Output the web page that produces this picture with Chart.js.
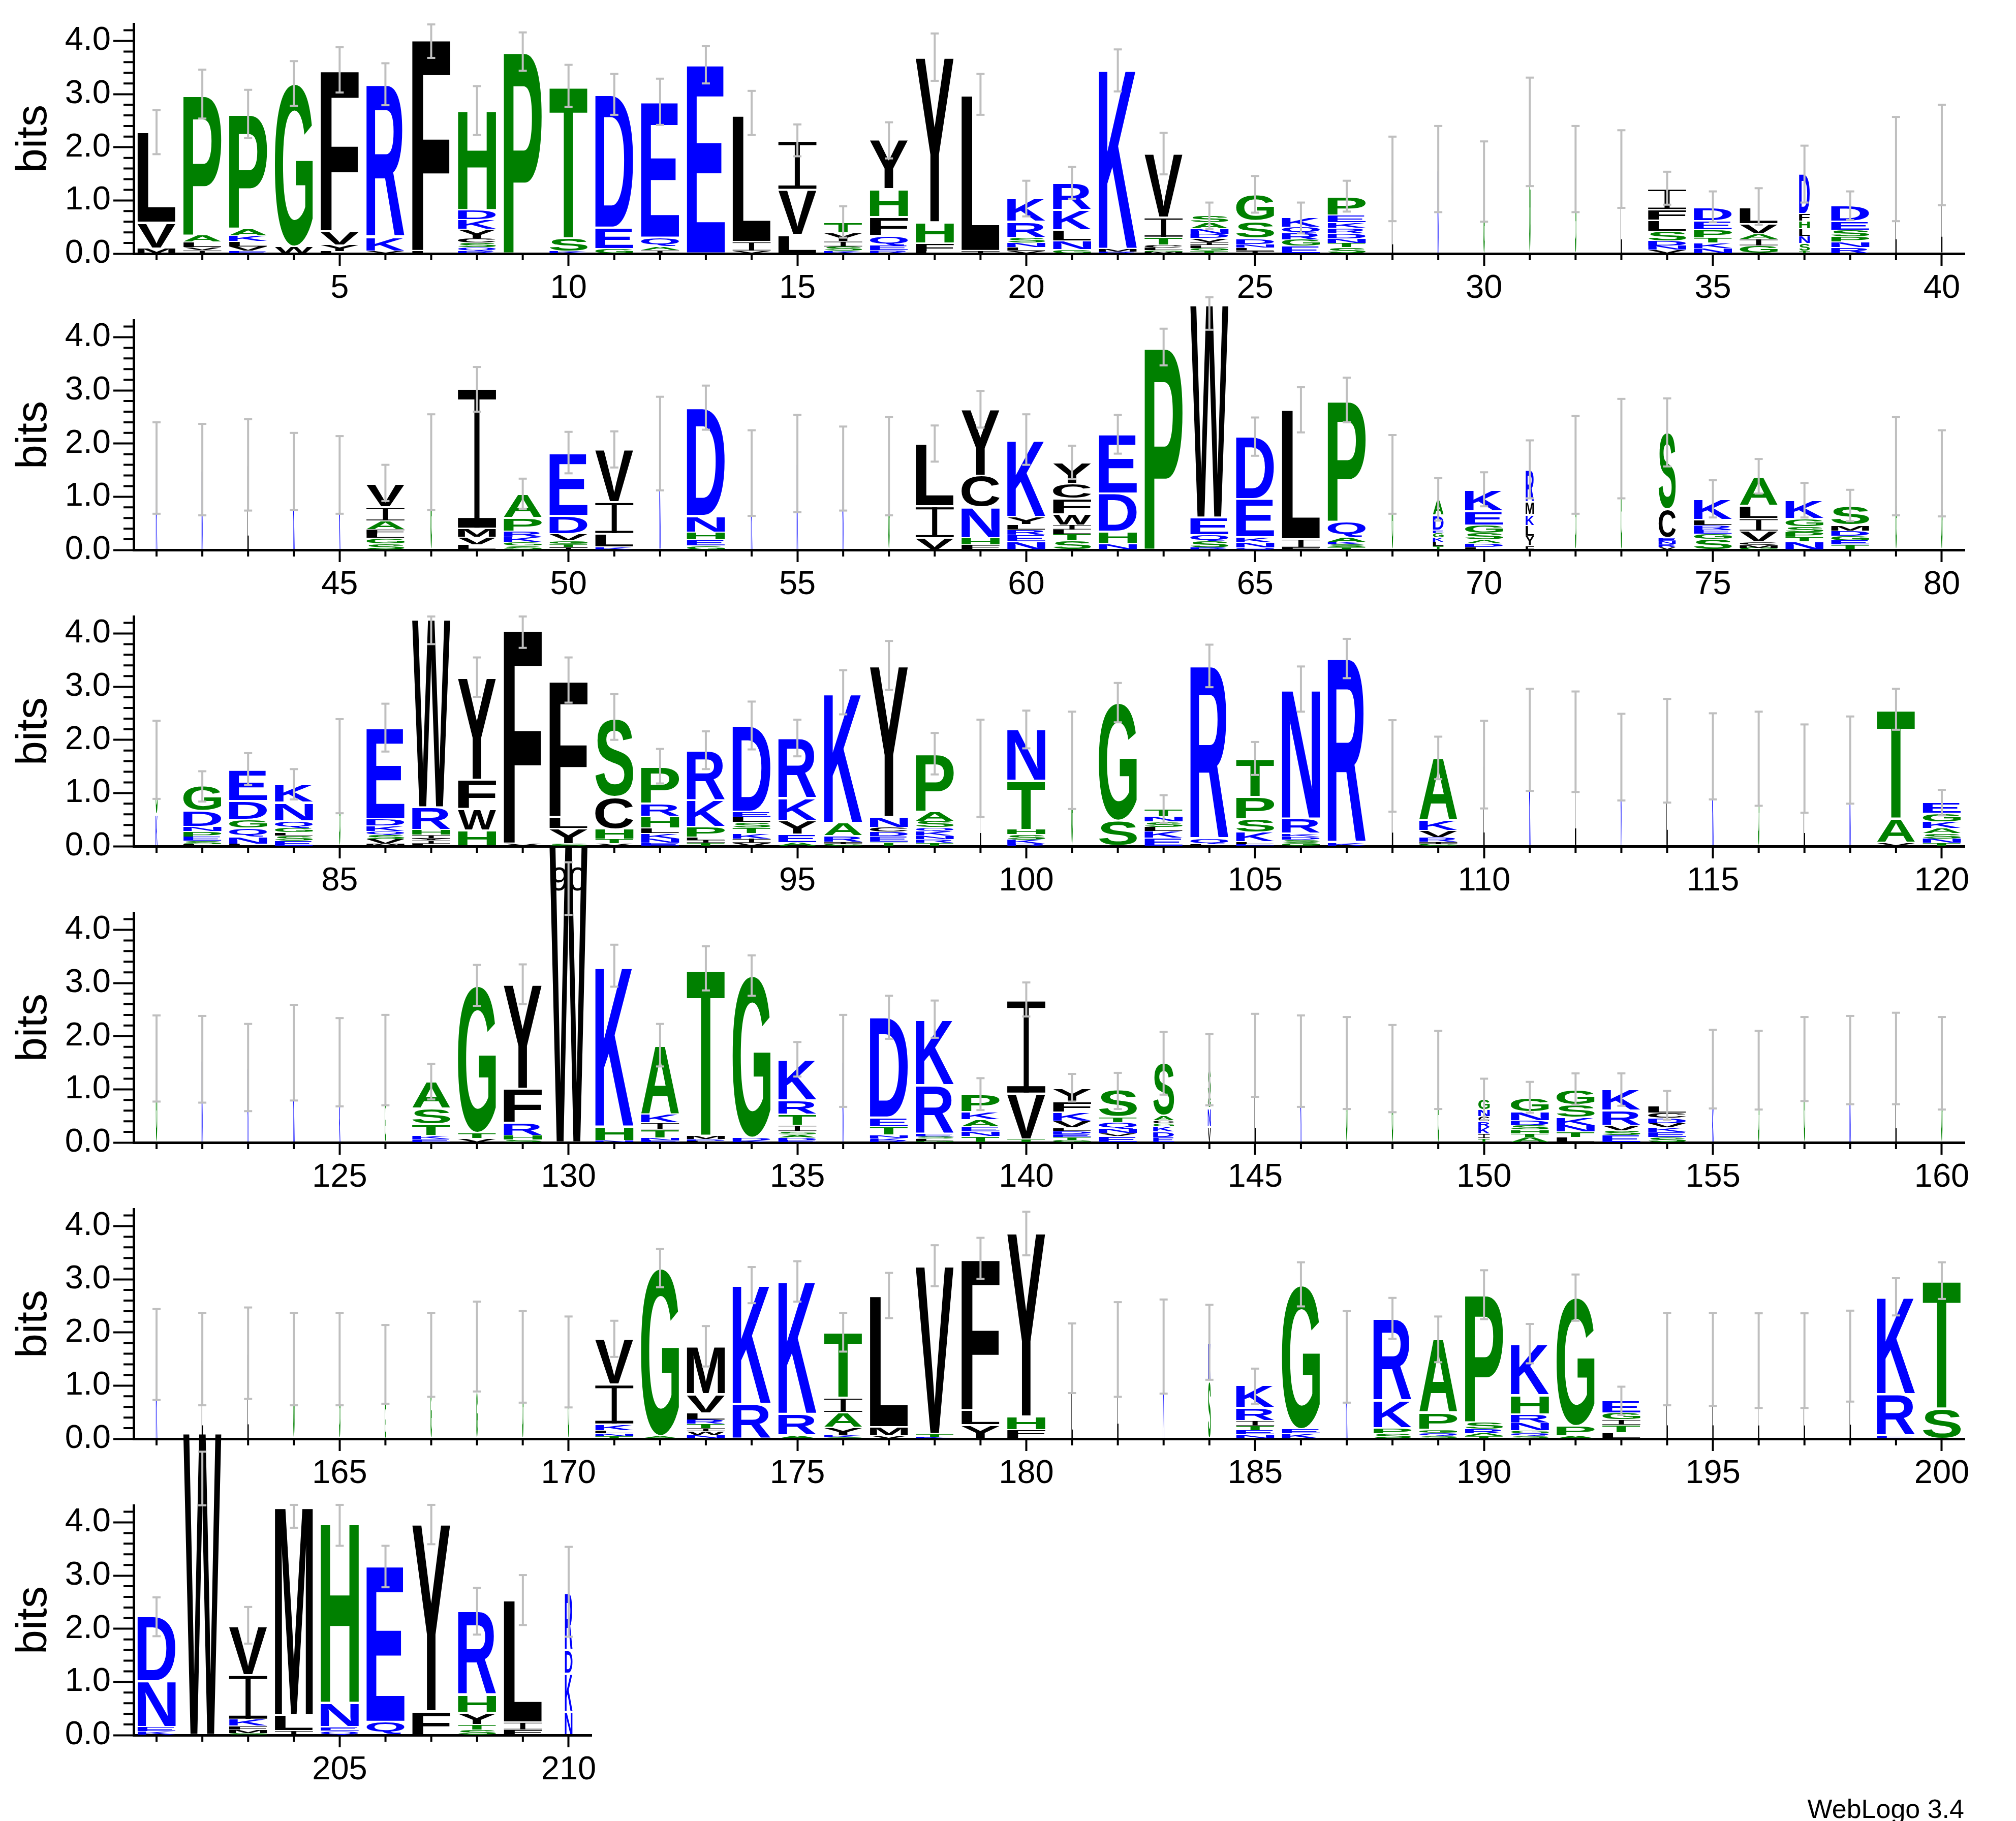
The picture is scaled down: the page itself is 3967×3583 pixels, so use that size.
<!DOCTYPE html>
<html>
<head>
<meta charset="utf-8">
<title>Sequence logo</title>
<script src="https://cdn.jsdelivr.net/npm/chart.js@4.4.1/dist/chart.umd.min.js"></script>
<style>
  html, body { margin: 0; padding: 0; background: #fff; }
  #page { position: relative; width: 3967px; height: 3583px; overflow: hidden; background: #fff; }
  #page canvas { position: absolute; left: 0; }
  #credit { position: absolute; right: 102px; top: 3533px; font: 52px "Liberation Sans", Arial, sans-serif; line-height: 1; color: #000; }
</style>
</head>
<body>
<div id="page"><div id="credit">WebLogo 3.4</div></div>
<script>
// residues per position (1..210), listed bottom -> top
const letters = [
  "MVL","IVLAP","EVLKAP","WG","LYVF","VKR","LF","RQSCYKDH","P","KST",
  "GED","IAQE","E","VIL","LVI","KSIYT","REQFHY","LFHY","IL","VLNSRK",
  "GNLKR","RMK","MGLCTIV","TGLIVDNAS","ILNDSG","EGRQK","STNDRKEP","LG","K","G",
  "G","G","L","VNDSLFI","NKTPED","GIAVL","TSNLHFD","RNPSED","L","L",
  "K","K","L","K","K","SGLFAIV","G","LVMI","SGKRPA","ITGVDE",
  "KLIV","K","GEHND","K","K","K","G","VIL","FHNCY","NERLYK",
  "STLIWFCY","NHDE","P","RSQEW","QNKED","FIL","TSKAQP","G","TLKGEDA","LDASGEK",
  "FYLKMR","G","G","VRNECS","SGERLK","GMCVILA","NTPSGK","TEGDMS","G","G",
  "KG","LSEPNDG","LNQGDE","ESLGQNK","G","MVSQKDE","LIYIHRW","HWFY","VF","SYLF",
  "VTHCS","ENKLHRP","TILPKR","VIKTSLED","AEYKR","GIRAK","TEDCNY","TRNKQSAP","L","RKSHTN",
  "G","SG","EKLSNT","LQR","ELKSPT","GSDKRN","KR","L","GIRVKA","L",
  "K","L","K","L","K","G","L","K","VAT","TNSAKGE",
  "G","K","K","K","KG","GL","EKTSA","VTG","SHRFY","W",
  "NHK","ENTIKA","LDMT","KDG","EDASITRK","K","RKNTED","GLSERK","TNEAKP","TVI",
  "GTEDLVKFY","EVNQTS","EDKGCAS","VNGS","L","K","G","G","G","TIKRCNG",
  "ATHSDNG","LTNKSG","ESVRK","SEKVDCL","KG","G","G","K","L","G",
  "K","L","L","G","G","GL","GK","GL","G","G",
  "TNLKIV","AG","NWITRLVM","RK","ARK","SKYAIT","VML","KTV","YLF","LFHY",
  "LG","L","K","SK","NETIRK","KEG","K","SPKR","SQGPA","TARSP",
  "SQGNRHK","APG","LTIGE","L","L","L","L","L","ERK","ST",
  "KEND","W","GMFKIV","ILM","QENH","QE","FY","STYHR","FIL","NKDR"
];

// letter heights in bits, same order as letters
const heights = [
  [0.10,0.48,1.70],[0.06,0.06,0.10,0.12,2.65],[0.05,0.08,0.10,0.11,0.13,2.16],[0.13,3.07],[0.04,0.12,0.26,3.04],
  [0.04,0.27,2.87],[0.05,4.00],[0.05,0.07,0.08,0.08,0.18,0.18,0.18,1.88],[3.81],[0.04,0.25,2.86],
  [0.09,0.40,2.50],[0.06,0.07,0.17,2.55],[3.55],[0.05,0.17,2.38],[0.35,0.85,0.92],
  [0.05,0.08,0.10,0.16,0.20],[0.06,0.09,0.18,0.36,0.52,0.93],[0.04,0.15,0.40,3.10],[0.05,2.93],[0.05,0.07,0.08,0.10,0.30,0.44],
  [0.08,0.16,0.20,0.38,0.50],[0.03,0.06,3.38],[0.03,0.03,0.05,0.05,0.14,0.38,1.20],[0.05,0.05,0.06,0.06,0.07,0.08,0.10,0.11,0.13],[0.05,0.06,0.07,0.10,0.33,0.50],
  [0.14,0.12,0.12,0.12,0.18],[0.12,0.08,0.08,0.10,0.10,0.10,0.14,0.36],[1.00,0.40],[1.59],[1.36],
  [2.29],[1.59],[1.59],[0.07,0.08,0.09,0.18,0.21,0.19,0.40],[0.10,0.10,0.10,0.15,0.17,0.25],
  [0.15,0.12,0.10,0.18,0.32],[0.05,0.14,0.14,0.14,0.14,0.14,0.76],[0.12,0.10,0.10,0.12,0.16,0.30],[1.60],[1.86],
  [1.54],[1.51],[1.60],[1.47],[1.41],
  [0.12,0.10,0.08,0.08,0.16,0.26,0.44],[1.65],[0.10,0.14,0.16,2.63],[0.08,0.07,0.09,0.11,0.25,0.46],[0.05,0.06,0.06,0.13,0.34,1.18],
  [0.05,0.25,0.60,0.99],[2.00],[0.08,0.11,0.14,0.31,2.03],[1.45],[1.63],
  [1.53],[1.58],[0.22,0.60,1.18],[0.10,0.12,0.58,0.60,1.25],[0.16,0.12,0.10,0.10,0.14,1.45],
  [0.17,0.12,0.09,0.09,0.20,0.29,0.28,0.40],[0.12,0.22,0.72,1.12],[3.82],[0.04,0.12,0.12,0.33,4.00],[0.04,0.10,0.10,0.72,1.17],
  [0.04,0.16,2.44],[0.05,0.05,0.05,0.08,0.30,2.28],[1.42],[0.07,0.08,0.08,0.08,0.06,0.28,0.30],[0.05,0.07,0.07,0.12,0.15,0.27,0.41],
  [0.08,0.18,0.20,0.20,0.24,0.61],[1.60],[1.90],[0.05,0.06,0.06,0.05,0.54,1.45],[0.20,0.10,0.08,0.08,0.10,0.39],
  [0.04,0.05,0.06,0.20,0.24,0.24,0.54],[0.16,0.08,0.09,0.11,0.14,0.36],[0.10,0.08,0.08,0.10,0.10,0.37],[1.57],[1.44],
  [0.60,1.02],[0.03,0.07,0.08,0.10,0.08,0.30,0.48],[0.04,0.13,0.17,0.16,0.35,0.59],[0.10,0.10,0.06,0.08,0.13,0.35,0.35],[1.50],
  [0.04,0.09,0.08,0.07,0.10,0.13,1.72],[0.04,0.07,0.03,0.07,0.09,0.43,3.54],[0.30,0.40,0.55,1.92],[0.05,4.04],[0.04,0.29,0.22,2.57],
  [0.05,0.08,0.19,0.61,1.48],[0.06,0.08,0.10,0.10,0.22,0.24,0.69],[0.06,0.05,0.06,0.19,0.50,0.94],[0.06,0.08,0.10,0.11,0.10,0.10,0.10,1.62],[0.07,0.15,0.26,0.42,1.13],
  [0.04,0.04,0.11,0.25,2.44],[0.08,0.11,0.08,0.08,0.20,2.84],[0.06,0.07,0.07,0.08,0.07,0.12,0.18,1.08],[1.46],[0.04,0.08,0.10,0.09,0.92,0.98],
  [1.62],[0.48,2.22],[0.16,0.12,0.08,0.10,0.10,0.14],[0.03,0.10,3.26],[0.04,0.04,0.18,0.25,0.42,0.72],
  [0.06,0.06,0.06,0.06,0.28,2.43],[0.06,3.47],[1.51],[0.04,0.04,0.08,0.13,0.20,1.17],[1.53],
  [2.00],[1.97],[1.67],[1.80],[1.69],
  [1.64],[1.46],[1.62],[0.06,0.46,2.05],[0.06,0.08,0.10,0.10,0.12,0.16,0.20],
  [1.58],[1.56],[1.41],[1.69],[0.80,0.71],
  [0.80,0.75],[0.06,0.07,0.21,0.30,0.51],[0.08,0.10,2.77],[0.05,0.08,0.24,0.64,1.96],[5.60],
  [0.03,0.27,3.01],[0.04,0.05,0.15,0.13,0.16,1.30],[0.03,0.03,0.07,3.13],[0.03,0.06,3.05],[0.04,0.05,0.06,0.06,0.11,0.21,0.26,0.77],
  [1.54],[0.04,0.04,0.06,0.16,0.17,1.89],[0.03,0.04,0.04,0.06,0.91,1.23],[0.12,0.08,0.10,0.13,0.14,0.33],[0.06,0.86,1.75],
  [0.04,0.06,0.06,0.06,0.06,0.12,0.17,0.20,0.25],[0.12,0.06,0.08,0.12,0.10,0.51],[0.10,0.10,0.10,0.06,0.06,0.08,0.99],[0.30,0.35,0.22,0.50],[1.64],
  [1.53],[1.50],[1.39],[1.37],[0.08,0.08,0.13,0.10,0.10,0.13,0.20],
  [0.10,0.07,0.07,0.08,0.09,0.16,0.27],[0.10,0.10,0.12,0.15,0.24,0.28],[0.14,0.08,0.10,0.28,0.41],[0.10,0.10,0.08,0.08,0.10,0.10,0.12],[0.70,0.68],
  [1.36],[1.57],[1.55],[1.58],[1.49],
  [1.58],[1.50],[1.61],[1.50],[1.50],
  [0.70,0.70],[1.00,0.58],[0.90,0.83],[1.54],[1.45],
  [0.04,0.06,0.06,0.11,0.75,0.86],[0.05,3.16],[0.07,0.07,0.06,0.08,0.08,0.12,0.36,0.90],[0.66,2.24],[0.06,0.41,2.50],
  [0.03,0.04,0.14,0.28,0.28,1.23],[0.06,0.16,2.47],[0.03,0.06,3.16],[0.26,0.28,2.85],[0.03,0.14,0.25,3.45],
  [1.00,0.52],[1.68],[1.74],[1.08,0.73],[0.08,0.08,0.08,0.10,0.24,0.43],
  [0.10,0.08,2.71],[1.54],[0.10,0.10,0.52,1.54],[0.05,0.06,0.06,0.32,1.38],[0.05,0.05,0.08,0.13,2.41],
  [0.05,0.05,0.05,0.15,0.16,0.36,0.96],[0.06,0.18,2.42],[0.12,0.14,0.10,0.12,0.23],[1.50],[1.49],
  [1.47],[1.47],[1.56],[0.06,0.78,1.83],[0.57,2.41],
  [0.07,0.08,0.86,1.22],[5.69],[0.03,0.07,0.07,0.12,0.84,0.92],[0.08,0.30,3.93],[0.08,0.07,0.46,3.39],
  [0.25,2.93],[0.45,3.52],[0.10,0.10,0.22,0.33,1.58],[0.10,0.14,2.30],[0.44,0.72,0.44,1.07]
];

// error bar ends (bits)
const errLo = [
  1.87,2.54,2.17,2.78,3.03,2.79,3.68,2.23,3.44,2.76, 2.61,2.42,3.20,2.23,1.83,0.30,1.79,3.25,2.61,0.70,
  1.03,3.05,1.49,0.46,0.77,0.38,0.79,0.61,0.78,0.60, 1.27,0.78,0.86,0.92,0.59,0.54,0.96,0.63,0.61,0.91,
  0.68,0.65,0.74,0.75,0.68,0.92,0.75,2.60,0.77,1.44, 1.55,1.12,2.26,0.64,0.71,0.74,0.65,1.66,2.30,1.60,
  1.33,1.81,3.47,4.14,1.77,2.21,2.40,0.68,0.55,0.82, 0.97,0.68,0.97,1.57,0.61,1.06,0.61,0.54,0.65,0.63,
  0.89,0.84,1.15,0.88,0.62,1.78,3.80,2.81,3.73,2.70, 2.00,1.18,1.45,1.82,1.69,2.48,2.94,1.35,0.55,1.84,
  0.70,2.33,0.44,2.99,1.34,2.53,3.16,0.65,1.26,0.71, 1.04,1.02,0.86,0.82,0.88,0.76,0.63,0.80,2.19,0.58,
  0.77,0.75,0.59,0.79,0.68,0.70,0.81,2.57,2.60,4.28, 2.93,1.43,2.86,2.76,1.24,0.67,1.95,1.97,0.61,2.37,
  0.77,0.63,0.90,0.70,0.86,0.67,0.63,0.57,0.63,0.42, 0.56,0.71,0.69,0.43,0.64,0.62,0.78,0.72,0.72,0.62,
  0.73,0.63,0.75,0.63,0.63,0.66,0.79,0.89,0.68,0.59, 1.54,2.85,1.36,2.55,2.58,1.64,2.27,2.87,3.01,3.45,
  0.86,0.79,0.85,1.11,0.66,2.49,0.68,1.88,1.44,2.25, 1.42,2.22,0.45,0.63,0.62,0.58,0.58,0.70,2.32,2.63,
  1.86,4.32,1.72,3.90,3.56,2.78,3.59,1.89,2.07,1.85
];
const errHi = [
  2.70,3.46,3.08,3.62,3.88,3.58,4.31,3.15,4.16,3.55, 3.38,3.29,3.90,3.06,2.43,0.89,2.47,4.14,3.38,1.37,
  1.63,3.84,2.27,0.96,1.46,0.96,1.37,2.20,2.40,2.11, 3.31,2.40,2.32,1.54,1.17,1.23,2.03,1.17,2.57,2.80,
  2.40,2.37,2.46,2.20,2.14,1.60,2.55,3.44,1.34,2.22, 2.23,2.88,3.09,2.25,2.54,2.32,2.50,2.34,2.99,2.55,
  1.96,2.54,4.16,4.75,2.49,3.06,3.24,2.16,1.35,1.46, 2.06,2.52,2.84,2.85,1.31,1.71,1.26,1.13,2.50,2.25,
  2.36,1.41,1.75,1.45,2.39,2.68,4.32,3.55,4.32,3.55, 2.86,1.83,2.16,2.72,2.38,3.31,3.86,2.13,2.38,2.55,
  2.53,3.07,0.96,3.79,1.96,3.38,3.90,2.37,2.06,2.36, 2.96,2.91,2.49,2.77,2.50,2.53,2.29,2.44,2.96,1.06,
  2.39,2.38,2.23,2.59,2.34,2.40,1.48,3.34,3.35,5.27, 3.72,2.23,3.69,3.52,1.89,2.40,2.76,2.67,1.21,3.01,
  1.29,1.31,2.08,2.04,2.42,2.39,2.36,2.21,2.10,1.20, 1.14,1.30,1.30,0.97,2.12,2.10,2.36,2.38,2.44,2.36,
  2.44,2.37,2.47,2.37,2.37,2.14,2.37,2.58,2.40,2.30, 2.22,3.57,2.12,3.23,3.34,2.37,3.12,3.64,3.78,4.27,
  2.17,2.57,2.62,2.52,1.32,3.32,2.40,2.65,2.30,3.17, 2.16,3.09,0.98,2.37,2.37,2.36,2.36,2.41,3.02,3.32,
  2.59,5.33,2.41,4.33,4.33,3.56,4.33,2.77,3.01,3.54
];

// columns that are mostly gaps are drawn very thin
const gapCols = [28,29,30,31,32,33,39,40,41,42,43,44,45,47,52,54,55,56,57,68,72,73,79,80,85,99,101,108,
  110,111,112,113,114,115,116,117,118,121,122,123,124,125,126,136,145,146,147,148,149,155,156,157,158,159,160,
  161,162,163,164,165,166,167,168,169,170,181,182,183,187,194,195,196,197,198];
const narrowCols = [[37,0.28],[69,0.28],[71,0.22],[74,0.45],[81,0.05],[143,0.55],[144,0.08],[150,0.3],[184,0.07],[210,0.2]];

const yTicks = [0, 1, 2, 3, 4];
const rows = [[1,40],[41,40],[81,40],[121,40],[161,40],[201,10]];

const colWidth = letters.map(() => 1);
gapCols.forEach(p => { colWidth[p - 1] = 0.035; });
narrowCols.forEach(([p, w]) => { colWidth[p - 1] = w; });

const yMinorTicks = [];
for (let v = 2; v <= 42; v += 2) { if (v % 10) yMinorTicks.push(v / 10); }

// hydrophobicity colouring
const colorOf = ch => 'RKDENQ'.includes(ch) ? '#0000ff' : ('SGHTAP'.includes(ch) ? '#008000' : '#000000');

const FONT = '"Liberation Sans", Arial, Helvetica, sans-serif';
const GLYPH_FONT = 'bold 200px ' + FONT;
const AXIS_LEFT = 263, CELL = 90.08, PLOT_H = 452, TOP_PAD = 200, X_AXIS_H = 100, BOTTOM_PAD = 30, RIGHT_PAD = 101;
const ZERO0 = 499, ROW_STEP = 583;

const glyphMetrics = {};
function fitText(ctx, ch, x0, x1, yTop, yBot) {
  ctx.font = GLYPH_FONT;
  ctx.textAlign = 'left';
  ctx.textBaseline = 'alphabetic';
  let m = glyphMetrics[ch];
  if (!m) {
    const t = ctx.measureText(ch);
    m = glyphMetrics[ch] = { l: t.actualBoundingBoxLeft, r: t.actualBoundingBoxRight, a: t.actualBoundingBoxAscent, d: t.actualBoundingBoxDescent };
  }
  ctx.save();
  ctx.translate(x0, yBot);
  ctx.scale((x1 - x0) / (m.l + m.r), (yBot - yTop) / (m.a + m.d));
  ctx.fillText(ch, m.l, -m.d);
  ctx.restore();
}

function drawGlyph(ctx, ch, x0, x1, yTop, yBot) {
  const g = Math.min(2, (yBot - yTop) * 0.06);
  yTop += g; yBot -= g;
  if (x1 - x0 < 0.5 || yBot - yTop < 0.5) return;
  ctx.save();
  ctx.fillStyle = colorOf(ch);
  if (ch === 'I') {
    // serif I: bars top and bottom, thin stem
    const w = x1 - x0, bar = Math.max(1, (yBot - yTop) * 0.07), sw = Math.max(1, w * 0.14);
    ctx.fillRect(x0, yTop, w, bar);
    ctx.fillRect(x0, yBot - bar, w, bar);
    fitText(ctx, 'I', x0 + (w - sw) / 2, x0 + (w + sw) / 2, yTop, yBot);
  } else {
    fitText(ctx, ch, x0, x1, yTop, yBot);
  }
  ctx.restore();
}

function logoPlugin(idx) {
  return {
    id: 'logoGlyphs',
    beforeDatasetsDraw(chart) {
      const { ctx, chartArea: a, scales: { x, y } } = chart;
      ctx.save();
      ctx.strokeStyle = '#000';
      ctx.lineWidth = 4;
      ctx.beginPath();
      yMinorTicks.forEach(v => {
        const py = y.getPixelForValue(v);
        ctx.moveTo(a.left - 20, py); ctx.lineTo(a.left, py);
      });
      idx.forEach((pos, j) => {
        if ((pos + 1) % 5 === 0) return;
        const px = x.getPixelForValue(j);
        ctx.moveTo(px, a.bottom); ctx.lineTo(px, a.bottom + 13);
      });
      ctx.stroke();
      ctx.restore();
    },
    afterDatasetsDraw(chart) {
      const ctx = chart.ctx;
      chart.data.datasets.forEach((ds, k) => {
        chart.getDatasetMeta(k).data.forEach((bar, j) => {
          const pos = idx[j];
          const ch = letters[pos][k];
          if (!ch) return;
          const p = bar.getProps(['x', 'y', 'base', 'width'], true);
          const w = p.width * colWidth[pos];
          drawGlyph(ctx, ch, p.x - w / 2, p.x + w / 2, Math.min(p.y, p.base), Math.max(p.y, p.base));
        });
      });
      // error bars
      const { x, y } = chart.scales;
      ctx.save();
      ctx.strokeStyle = '#bfbfbf';
      ctx.fillStyle = '#bfbfbf';
      ctx.lineWidth = 4;
      idx.forEach((pos, j) => {
        const px = x.getPixelForValue(j);
        const y1 = y.getPixelForValue(errHi[pos]);
        const y0 = y.getPixelForValue(errLo[pos]);
        ctx.beginPath(); ctx.moveTo(px, y1); ctx.lineTo(px, y0); ctx.stroke();
        ctx.fillRect(px - 8, y1 - 2, 16, 4);
        ctx.fillRect(px - 8, y0 - 2, 16, 4);
      });
      ctx.restore();
    }
  };
}

const page = document.getElementById('page');

rows.forEach(([start, n], r) => {
  const canvas = document.createElement('canvas');
  const w = Math.round(AXIS_LEFT + n * CELL + RIGHT_PAD);
  const h = TOP_PAD + PLOT_H + X_AXIS_H + BOTTOM_PAD;
  canvas.width = w; canvas.height = h;
  canvas.style.width = w + 'px'; canvas.style.height = h + 'px';
  canvas.style.top = (ZERO0 + ROW_STEP * r - TOP_PAD - PLOT_H) + 'px';
  page.appendChild(canvas);

  const idx = Array.from({ length: n }, (_, j) => start - 1 + j);
  const depth = Math.max(...idx.map(i => letters[i].length));
  const datasets = [];
  for (let k = 0; k < depth; k++) {
    datasets.push({
      data: idx.map(i => heights[i][k] || 0),
      backgroundColor: 'rgba(0,0,0,0)',
      borderWidth: 0,
      barPercentage: 0.83,
      categoryPercentage: 1
    });
  }

  new Chart(canvas, {
    type: 'bar',
    data: { labels: idx.map(i => String(i + 1)), datasets: datasets },
    options: {
      responsive: false,
      animation: false,
      devicePixelRatio: 1,
      layout: { padding: { top: TOP_PAD, right: RIGHT_PAD, bottom: BOTTOM_PAD, left: 0 } },
      plugins: { legend: { display: false }, tooltip: { enabled: false } },
      scales: {
        x: {
          stacked: true,
          offset: true,
          afterFit: s => { s.height = X_AXIS_H; },
          grid: {
            offset: false,
            drawOnChartArea: false,
            tickLength: 24,
            tickWidth: 4,
            tickColor: c => ((idx[c.index] + 1) % 5 === 0 ? '#000' : 'rgba(0,0,0,0)')
          },
          border: { display: true, color: '#000', width: 5 },
          ticks: {
            autoSkip: false, maxRotation: 0, minRotation: 0, padding: 6, color: '#000',
            font: { family: FONT, size: 65 },
            callback: (v, i) => ((idx[i] + 1) % 5 === 0 ? String(idx[i] + 1) : '')
          }
        },
        y: {
          stacked: true,
          min: 0,
          max: 4.32,
          afterFit: s => { s.width = AXIS_LEFT; },
          afterBuildTicks: s => { s.ticks = yTicks.map(v => ({ value: v })); },
          grid: { drawOnChartArea: false, tickLength: 40, tickWidth: 4, tickColor: '#000' },
          border: { display: true, color: '#000', width: 5 },
          ticks: { padding: 5, color: '#000', font: { family: FONT, size: 65 }, callback: v => Number(v).toFixed(1) },
          title: { display: true, text: 'bits', color: '#000', font: { family: FONT, size: 86 }, padding: { top: 16, bottom: 0 } }
        }
      }
    },
    plugins: [logoPlugin(idx)]
  });
});
</script>
</body>
</html>
